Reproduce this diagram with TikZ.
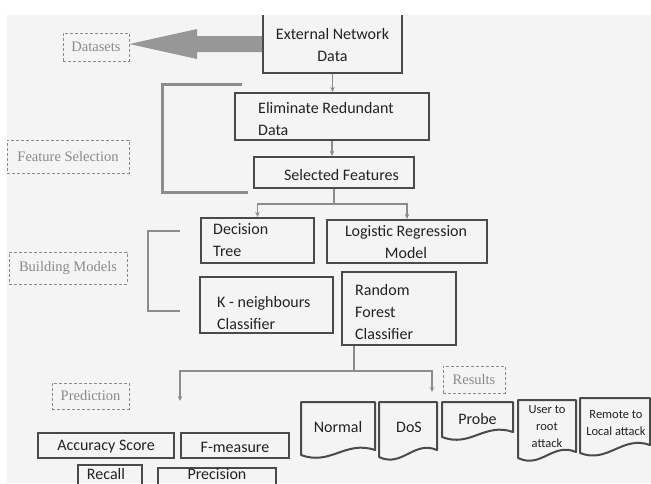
\documentclass[tikz,border=0pt]{standalone}
\usepackage{fontspec}
\setmainfont{Carlito}
\newfontfamily\labfont{Liberation Serif}
\usetikzlibrary{arrows.meta}
\definecolor{bgc}{HTML}{F4F4F4}
\definecolor{boxc}{HTML}{4A4A4A}
\definecolor{conc}{HTML}{8C8C8C}
\definecolor{labc}{HTML}{8A8A8A}
\definecolor{arrc}{HTML}{979797}
\definecolor{txtc}{HTML}{222222}
\tikzset{
  box/.style={draw=boxc, line width=2.2pt, inner sep=0pt},
  tx/.style={text=txtc, font=\fontsize{16}{22}\selectfont, inner sep=0pt, align=center},
  txl/.style={tx, align=left, anchor=west},
  smalltx/.style={text=txtc, font=\fontsize{12.5}{17}\selectfont, inner sep=0pt, align=center},
  lab/.style={draw=labc, line width=1pt, dash pattern=on 3pt off 2pt, text=labc,
    font=\labfont\fontsize{14.5}{17}\selectfont, inner sep=0pt},
  con/.style={draw=conc, line width=1.3pt},
  conar/.style={con, -{Stealth[length=5pt,width=4.5pt]}},
  brk/.style={draw=conc, line cap=butt, line join=miter},
  docline/.style={draw=boxc, line width=2pt, line join=round},
}
\newcommand\docshape[5]{\draw[docline] (#1,#3) -- (#2,#3) -- (#2,#5)
  .. controls ({#2-0.4*(#2-#1)},{#5-10}) and ({#1+0.4*(#2-#1)},{#4+11}) .. (#1,#4) -- cycle;}
\begin{document}
\begin{tikzpicture}[x=1pt,y=-1pt]
\useasboundingbox (0,0) rectangle (651,483);
\fill[white] (0,0) rectangle (651,483);
\fill[bgc] (7,15) rectangle (651,483);

% main boxes
\node[box, minimum width=139pt, minimum height=60pt] (ext) at (332.5,43) {};
\node[box, minimum width=194pt, minimum height=47pt] (elim) at (332,116.5) {};
\node[box, minimum width=160pt, minimum height=31pt] (sel) at (334,172.5) {};
\node[box, minimum width=113pt, minimum height=45pt] (dt) at (257.5,240.5) {};
\node[box, minimum width=160pt, minimum height=43pt] (lr) at (407,241.5) {};
\node[box, minimum width=133pt, minimum height=56pt] (kn) at (266.5,305) {};
\node[box, minimum width=114pt, minimum height=73pt] (rf) at (399,308.5) {};
\node[box, minimum width=136pt, minimum height=25pt] (acc) at (106,445.5) {};
\node[box, minimum width=108pt, minimum height=25pt] (fm) at (235,445.5) {};
\node[box, minimum width=64pt, minimum height=30pt] (rec) at (110,480) {};
\node[box, minimum width=118pt, minimum height=30pt] (prec) at (217,483) {};

% texts in boxes
\node[tx] (extt) at (332.5,44.5) {External Network\\Data};
\node[txl] (elimt) at (258,119) {Eliminate Redundant\\Data};
\node[tx] (selt) at (341.5,174.5) {Selected Features};
\node[txl] (dtt) at (213,240) {Decision\\Tree};
\node[tx] (lrt) at (406,242) {Logistic Regression\\Model};
\node[txl] (knt) at (217,312.5) {K - neighbours\\Classifier};
\node[txl] (rft) at (355,311.7) {Random\\Forest\\Classifier};
\node[tx] (acct) at (106,447) {Accuracy Score};
\node[tx] (fmt) at (235,447) {F-measure};
\node[tx] (rect) at (106,474) {Recall};
\node[tx] (prect) at (217,474.5) {Precision};

% dashed labels
\node[lab, minimum width=66pt, minimum height=28pt] (ds) at (96,47) {Datasets};
\node[lab, minimum width=122pt, minimum height=33pt] (fs) at (68,156.5) {Feature Selection};
\node[lab, minimum width=118pt, minimum height=32pt] (bm) at (68,268) {Building Models};
\node[lab, minimum width=77pt, minimum height=26pt] (pr) at (90.5,396) {Prediction};
\node[lab, minimum width=62pt, minimum height=27pt] (rs) at (474,379.5) {Results};

% big arrow to datasets
\fill[arrc] (ext.west |- 0,36) -- (197,36) -- (197,29) -- (ds.east |- 0,44)
  -- (197,59) -- (197,52) -- (ext.west |- 0,52) -- cycle;

% brackets
\draw[brk, line width=3pt] (242,84) -- (162,84) -- (162,192) -- (248,192);
\draw[brk, line width=2pt] (180,231) -- (148,231) -- (148,311) -- (180,311);

% connectors
\draw[conar] (ext.south) -- (ext.south |- elim.north);
\draw[conar] (elim.south) -- (elim.south |- sel.north);
\draw[conar] (sel.south) -- ++(0,15) -| (dt.north);
\draw[conar] (sel.south) -- ++(0,15) -| (lr.north);
\coordinate (rj) at (354,371);
\coordinate (pe) at (180,401);
\coordinate (re) at (432,392);
\draw[conar] (rj |- rf.south) -- (rj) -| (pe);
\draw[conar] (rj) -| (re);

% result documents
\docshape{301}{375}{402}{455}{450}
\docshape{379}{437}{402}{457}{450}
\docshape{442}{513}{402}{437}{432}
\docshape{518}{576}{400}{458}{452}
\docshape{580}{650}{398}{453}{445}
\node[tx] (normal) at (338,427) {Normal};
\node[tx] (dos) at (409,427) {DoS};
\node[tx] (probe) at (477.5,419) {Probe};
\node[smalltx] (u2r) at (547,427) {User to\\root\\attack};
\node[smalltx] (r2l) at (616,423.5) {Remote to\\Local attack};

% white top strip
\fill[white] (0,0) rectangle (651,15);
\end{tikzpicture}
\end{document}
